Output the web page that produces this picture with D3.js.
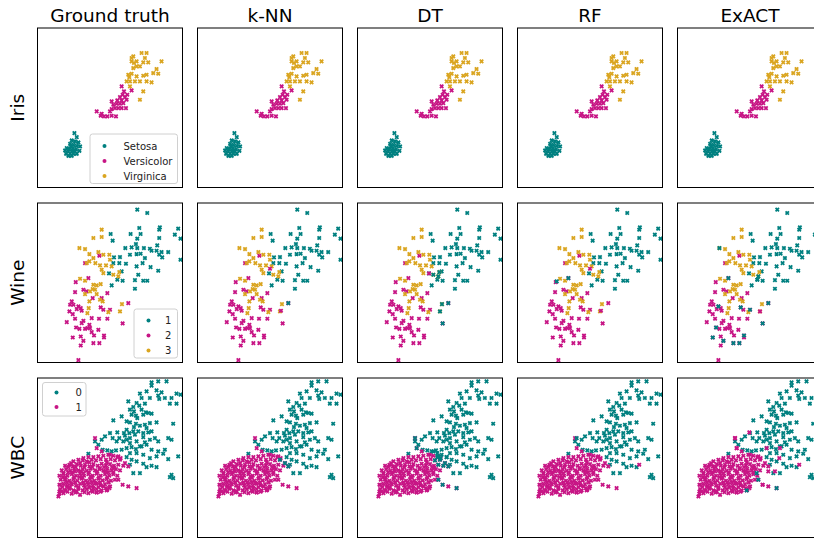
<!DOCTYPE html>
<html><head><meta charset="utf-8">
<script src="https://cdn.jsdelivr.net/npm/d3@7"></script>
<style>body{margin:0;background:#fff}svg{display:block}</style>
</head><body><svg id="c" width="814" height="538"></svg>
<script>
// ---- categories ----
const methods = ["Ground truth", "k-NN", "DT", "RF", "ExACT"];
const datasets = ["Iris", "Wine", "WBC"];
const irisClasses = ["Setosa", "Versicolor", "Virginica"];
const wineClasses = ["1", "2", "3"];
const wbcClasses = ["0", "1"];
const classColors = ["#008080", "#c71585", "#daa520"];

// ---- Iris 2-D embedding (ground truth) ----
const irisSetosa = [[133,340],[140,352],[125,362],[135,365],[145,368],[120,372],[130,375],[140,378],[150,380],[110,385],[118,388],[128,385],[138,388],[105,392],[115,395],[125,395],[135,395],[148,393],[108,402],[120,402],[130,402],[140,402],[125,408],[115,408],[122,380],[132,392]];
const irisVersicolor = [[200,275],[212,288],[222,290],[232,290],[245,288],[258,290],[215,282],[240,275],[245,268],[255,265],[265,265],[275,265],[288,265],[250,255],[260,252],[270,252],[280,250],[245,245],[262,242],[275,242],[290,240],[270,232],[285,232],[278,225],[292,225],[282,215],[305,212],[275,200]];
const irisVirginica = [[330,240],[340,215],[300,200],[290,185],[300,185],[315,185],[330,185],[350,185],[365,188],[295,165],[305,162],[320,170],[340,168],[350,165],[370,160],[385,162],[380,148],[310,145],[320,140],[330,140],[340,128],[355,128],[395,125],[305,125],[320,125],[305,115],[335,100],[350,100],[310,110],[345,115],[312,130],[298,172]];

// ---- Wine 2-D embedding (ground truth) ----
const wine1 = [[322,45],[352,55],[328,100],[390,98],[445,102],[242,118],[302,118],[332,118],[388,105],[435,120],[452,132],[248,138],[322,132],[388,130],[318,148],[286,160],[305,158],[322,160],[342,160],[360,162],[382,152],[380,168],[395,172],[415,172],[270,187],[252,188],[300,180],[320,178],[332,177],[345,190],[365,168],[388,180],[397,188],[452,195],[250,205],[268,205],[288,207],[320,215],[338,205],[362,217],[385,228],[275,230],[237,236],[262,255],[278,258],[325,240],[315,256],[340,258],[352,258],[245,272],[315,282]];
const wine2 = [[208,183],[165,205],[175,250],[137,262],[135,292],[160,285],[170,290],[232,295],[188,310],[215,310],[295,325],[125,320],[120,330],[130,330],[145,335],[152,340],[118,350],[140,343],[155,348],[128,358],[212,338],[220,345],[135,372],[160,378],[185,370],[207,372],[232,372],[110,382],[155,385],[178,390],[138,398],[148,402],[165,402],[172,400],[180,400],[205,405],[185,412],[128,428],[152,425],[192,422],[222,422],[222,428],[160,438],[152,452],[190,445],[208,445],[145,496],[240,345],[278,386]];
const wine3 = [[215,105],[190,130],[215,127],[148,160],[165,163],[205,172],[178,178],[190,190],[220,180],[238,180],[240,195],[170,205],[178,200],[196,205],[210,212],[228,212],[245,215],[215,225],[220,235],[250,240],[268,232],[265,245],[150,252],[165,258],[190,270],[200,272],[212,268],[188,283],[195,285],[180,290],[200,298],[165,298],[210,315],[218,320],[178,320],[176,340],[172,355],[235,352],[276,328],[270,350]];

// ---- WBC 2-D embedding (ground truth) ----
const wbc0 = [[365,38],[385,35],[410,35],[365,48],[330,72],[350,65],[380,62],[395,68],[440,72],[452,75],[335,85],[360,85],[385,78],[388,88],[405,85],[425,85],[440,102],[295,95],[320,100],[328,108],[310,112],[345,102],[420,102],[300,120],[312,125],[335,120],[348,128],[305,135],[318,138],[340,135],[355,130],[365,132],[250,152],[275,140],[290,155],[300,158],[322,145],[318,162],[330,168],[345,165],[360,160],[380,158],[430,162],[350,175],[325,185],[340,190],[355,188],[365,185],[240,190],[262,188],[282,190],[298,190],[310,185],[225,200],[248,205],[268,205],[285,198],[290,210],[300,205],[315,195],[340,202],[360,210],[375,205],[385,215],[415,205],[425,210],[195,215],[215,210],[260,215],[280,215],[300,220],[320,215],[345,218],[205,225],[218,240],[232,242],[245,245],[258,242],[275,240],[290,235],[305,232],[318,238],[335,230],[350,225],[365,240],[385,245],[405,240],[175,252],[300,250],[320,250],[340,255],[360,265],[380,260],[400,252],[415,268],[445,260],[290,262],[305,270],[320,275],[340,282],[300,285],[350,292],[365,288],[380,292],[310,310],[330,310],[425,315],[430,325],[420,322],[330,230],[290,180],[312,172]];
const wbc1 = [[195,205],[200,235],[215,245],[240,255],[265,260],[270,270],[285,280],[295,290],[265,330],[278,345],[295,350],[320,355],[238,355],[230,362],[200,368],[85,380],[88,365],[90,345],[100,310],[105,330],
[160,265],[175,262],[190,262],[205,260],[220,258],[235,255],[250,258],[262,262],
[130,275],[145,270],[158,272],[170,275],[185,270],[198,272],[212,268],[228,270],[242,268],[255,272],[272,265],
[105,288],[118,285],[128,290],[140,283],[152,288],[165,285],[178,290],[190,283],[203,288],[215,282],[228,287],[240,283],[252,288],[265,285],[280,288],
[95,302],[108,298],[120,303],[132,297],[145,302],[158,298],[170,303],[182,297],[195,302],[208,298],[220,303],[232,297],[245,302],[258,298],[270,302],
[88,318],[100,312],[112,318],[125,313],[138,318],[150,312],[162,318],[175,313],[188,318],[200,312],[212,318],[225,313],[238,318],[250,313],[262,318],
[92,330],[105,328],[118,333],[130,328],[142,333],[155,327],[168,333],[180,328],[193,333],[205,327],[218,332],[230,328],[243,333],[255,330],
[88,345],[100,342],[112,348],[125,343],[138,348],[150,342],[162,347],[175,343],[188,348],[200,342],[212,347],[225,343],[240,350],
[90,358],[105,362],[118,357],[130,362],[145,357],[158,362],[170,358],[185,362],[200,358],[215,362],[232,360],
[88,372],[100,370],[125,372],[150,375],[175,370],[200,368],
[115,292],[135,305],[160,310],[185,322],[210,295],[235,308],[148,322],[172,338],[196,340],[122,340],[98,322],[110,352],[140,365],[165,352],[190,355],[220,350],[252,295],[230,278],[178,278],[150,280],
[123,280],[137,292],[163,292],[187,292],[222,292],[246,292],[114,308],[127,308],[152,305],[177,308],[202,306],[227,305],[250,307],[107,322],[132,322],[157,322],[182,322],[207,323],[232,322],[110,338],[135,338],[160,338],[185,338],[210,338],[236,338],[97,352],[120,352],[145,352],[178,353],[205,352],[228,355],[95,365],[112,366],[137,368],[163,367],[188,366],[212,366]];

// ---- predicted labels that differ from ground truth: [x, y, class index] ----
const irisKnnChanges = [];
const irisDtChanges = [];
const irisRfChanges = [];
const irisExactChanges = [];
const wineKnnChanges = [[295,325,0],[240,222,1],[273,348,1]];
const wineDtChanges = [[276,328,0],[295,325,0],[270,350,0],[278,386,0],[265,245,0],[268,232,0],[250,240,0],[237,236,1]];
const wineRfChanges = [[175,250,0],[140,260,0],[240,222,1],[273,348,1]];
const wineExactChanges = [[148,160,0],[175,250,0],[145,335,0],[138,398,0],[128,428,0],[160,438,0],[190,445,0],[208,445,0],[222,422,0],[212,338,0],[240,345,0],[295,325,0],[270,350,1],[278,386,0],[265,245,0],[262,255,0]];
const wbcKnnChanges = [[270,270,0],[285,280,0],[295,290,0]];
const wbcDtChanges = [[195,205,0],[200,235,0],[250,245,0],[262,250,0],[275,255,0],[290,262,0],[265,260,0],[270,270,0],[285,280,0],[295,290,0],[255,272,0],[272,265,0],[265,285,0],[280,288,0],[278,345,0],[320,355,0],[265,330,0],[262,262,0]];
const wbcRfChanges = [[388,285,1],[200,205,0]];
const wbcExactChanges = [[195,205,1],[200,235,1],[238,188,1],[290,235,1],[330,235,1],[328,265,1],[388,285,1],[315,305,1],[295,305,1],[230,362,0],[265,330,0],[260,310,0],[320,355,0],[278,345,1]];

// ---- assemble ----
const rows = [
  {name: "Iris", classes: irisClasses, groups: [irisSetosa, irisVersicolor, irisVirginica],
   changes: [[], irisKnnChanges, irisDtChanges, irisRfChanges, irisExactChanges]},
  {name: "Wine", classes: wineClasses, groups: [wine1, wine2, wine3],
   changes: [[], wineKnnChanges, wineDtChanges, wineRfChanges, wineExactChanges]},
  {name: "WBC", classes: wbcClasses, groups: [wbc0, wbc1],
   changes: [[], wbcKnnChanges, wbcDtChanges, wbcRfChanges, wbcExactChanges]}
];

const svg = d3.select("#c");
const W = 145, H = 159.5, X0 = 37.5, Y0 = 28, DX = 160, DY = 175;
const x = d3.scaleLinear().domain([22, 458]).range([0, W]);
const y = d3.scaleLinear().domain([25, 503]).range([0, H]);
const font = "DejaVu Sans, sans-serif";
const xPath = "M-1.7,-1.7L1.7,1.7M-1.7,1.7L1.7,-1.7";

svg.append("defs").append("clipPath").attr("id", "clip")
  .append("rect").attr("width", W).attr("height", H);

methods.forEach((m, j) => {
  svg.append("text").attr("x", X0 + j * DX + W / 2).attr("y", 22)
    .attr("text-anchor", "middle").attr("font-family", font).attr("font-size", 18.5)
    .attr("fill", "#000").text(m);
});
rows.forEach((r, i) => {
  svg.append("text")
    .attr("transform", `translate(24,${Y0 + i * DY + H / 2}) rotate(-90)`)
    .attr("text-anchor", "middle").attr("font-family", font).attr("font-size", 18.5)
    .attr("fill", "#000").text(r.name);
});

function drawPts(g, pts, color) {
  g.selectAll(null).data(pts).enter().append("path")
    .attr("d", xPath)
    .attr("transform", d => `translate(${x(d[0])},${y(d[1])})`)
    .attr("stroke", color).attr("stroke-width", 1.8).attr("fill", "none")
    .attr("stroke-linecap", "butt");
}

rows.forEach((r, i) => {
  methods.forEach((m, j) => {
    const g = svg.append("g").attr("transform", `translate(${X0 + j * DX},${Y0 + i * DY})`);
    const inner = g.append("g").attr("clip-path", "url(#clip)");
    r.groups.forEach((pts, k) => drawPts(inner, pts, classColors[k]));
    const ch = r.changes[j];
    ch.forEach(c => drawPts(inner, [c], classColors[c[2]]));
    g.append("rect").attr("width", W).attr("height", H)
      .attr("fill", "none").attr("stroke", "#000").attr("stroke-width", 1);
  });
});

// ---- legends (ground-truth column) ----
const legends = [
  {row: 0, x: 52.5, y: 106, w: 87.5, h: 49.5, dotX: 14.5, txtX: 33.5, rowY: [15.5, 30.5, 45.5]},
  {row: 1, x: 96.5, y: 106, w: 43.5, h: 49, dotX: 14.5, txtX: 31, rowY: [15, 30, 45]},
  {row: 2, x: 5, y: 4.5, w: 43.5, h: 33.5, dotX: 14, txtX: 33, rowY: [13.5, 28]}
];
legends.forEach(L => {
  const r = rows[L.row];
  const g = svg.append("g").attr("transform", `translate(${X0 + L.x},${Y0 + L.row * DY + L.y})`);
  g.append("rect").attr("width", L.w).attr("height", L.h).attr("rx", 2.5)
    .attr("fill", "#fff").attr("fill-opacity", 0.8).attr("stroke", "#d0d0d0").attr("stroke-width", 1);
  r.classes.forEach((c, k) => {
    g.append("circle").attr("cx", L.dotX).attr("cy", L.rowY[k] - 3.5).attr("r", 2)
      .attr("fill", classColors[k]);
    g.append("text").attr("x", L.txtX).attr("y", L.rowY[k])
      .attr("font-family", font).attr("font-size", 10).attr("fill", "#222").text(c);
  });
});
</script></body></html>
